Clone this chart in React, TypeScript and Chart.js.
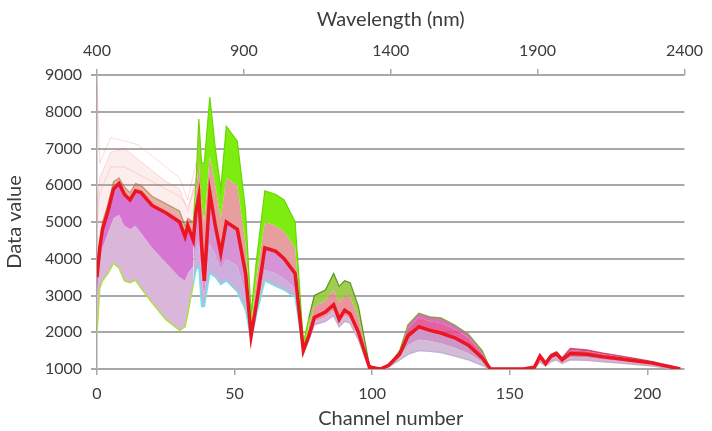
import React, { useEffect, useRef } from "react";
import { Chart, registerables } from "chart.js";

Chart.register(...registerables);

const channels = [0, 1, 2, 4, 6, 8, 10, 12, 14, 16, 20, 25, 30, 32, 33, 35, 36, 37, 38, 39, 41, 43, 45, 47, 51, 54, 56, 58, 61, 65, 68, 72, 75, 77, 79, 83, 86, 88, 90, 92, 95, 99, 103, 106, 108, 110, 113, 117, 121, 125, 130, 135, 140, 143, 150, 155, 159, 161, 163, 165, 167, 169, 172, 178, 184, 190, 196, 202, 207, 212];

// Upper envelope of the spectra bundle (green top)
const topEnvelope = [3700, 4500, 5000, 5500, 6100, 6200, 5950, 5800, 6050, 6000, 5700, 5500, 5300, 4900, 5100, 5000, 6100, 7800, 6600, 6600, 8400, 7000, 5900, 7600, 7200, 5300, 2500, 4000, 5850, 5750, 5600, 5000, 1700, 2400, 3000, 3150, 3600, 3250, 3400, 3350, 2700, 1100, 1000, 1120, 1300, 1500, 2200, 2520, 2420, 2390, 2200, 1950, 1500, 1000, 1000, 1000, 1060, 1380, 1180, 1400, 1470, 1300, 1560, 1520, 1430, 1360, 1280, 1200, 1100, 1000];

// Where the green part of the bundle gives way to the pink part
const upperMid = [3650, 4450, 4950, 5450, 6000, 6150, 5880, 5720, 5980, 5920, 5600, 5400, 5180, 4780, 5000, 4800, 5800, 6600, 5500, 5000, 6800, 6000, 5100, 6200, 6000, 4400, 2200, 3500, 5000, 4900, 4750, 4300, 1600, 2150, 2700, 2850, 3150, 2800, 3000, 2950, 2400, 1080, 1000, 1110, 1280, 1450, 2100, 2400, 2300, 2250, 2080, 1850, 1420, 1000, 1000, 1000, 1055, 1370, 1170, 1380, 1450, 1280, 1510, 1480, 1400, 1330, 1260, 1190, 1095, 1000];

// Dominant red spectrum
const mainRed = [3500, 4300, 4800, 5300, 5900, 6050, 5750, 5600, 5850, 5800, 5450, 5250, 5000, 4600, 4900, 4500, 5300, 5700, 4400, 3400, 5800, 4900, 4150, 5000, 4800, 3600, 1900, 2800, 4300, 4200, 4000, 3600, 1500, 1900, 2400, 2550, 2750, 2350, 2600, 2500, 2000, 1050, 1000, 1100, 1250, 1400, 1900, 2150, 2050, 1980, 1850, 1650, 1300, 1000, 1000, 1000, 1050, 1350, 1150, 1350, 1420, 1250, 1420, 1400, 1330, 1280, 1220, 1160, 1080, 1000];

// Lower boundary of the magenta part
const lowerMid = [3000, 3900, 4300, 4700, 5100, 5200, 4900, 4800, 4900, 4700, 4300, 3900, 3500, 3400, 3600, 3800, 4300, 4500, 3500, 3000, 4400, 4100, 3700, 4000, 3800, 3000, 1850, 2600, 3700, 3600, 3450, 3200, 1480, 1850, 2300, 2400, 2600, 2250, 2450, 2380, 1900, 1020, 1000, 1070, 1200, 1320, 1650, 1800, 1760, 1700, 1580, 1430, 1200, 1000, 1000, 1000, 1030, 1270, 1110, 1270, 1330, 1200, 1330, 1320, 1260, 1220, 1170, 1120, 1050, 1000];

// Lower envelope (lime / cyan edge)
const lowerEnvelope = [2000, 3200, 3400, 3600, 3880, 3750, 3400, 3350, 3420, 3200, 2800, 2350, 2050, 2150, 2500, 3300, 3700, 3800, 2700, 2700, 3600, 3500, 3300, 3400, 3100, 2600, 1800, 2500, 3400, 3250, 3150, 2950, 1450, 1800, 2200, 2300, 2450, 2150, 2300, 2250, 1800, 1000, 1000, 1050, 1150, 1250, 1400, 1500, 1480, 1450, 1350, 1250, 1100, 1000, 1000, 1000, 1020, 1200, 1080, 1200, 1250, 1150, 1250, 1240, 1200, 1160, 1120, 1080, 1030, 1000];

// Faint red outlier spectra in the visible range
const faintChannels = [0, 1, 5, 10, 15, 20, 25, 30, 33, 36, 38];
const faintA = [8800, 6600, 7300, 7200, 7100, 6800, 6500, 6200, 5600, 6600, 6000];
const faintB = [5500, 6200, 6900, 7000, 6700, 6400, 6100, 5900, 5300, 6200, 5800];
const faintC = [5000, 5800, 6500, 6500, 6300, 6100, 5900, 5700, 5400, 6000, 5600];

const channelRange = [0, 213.5];
const wavelengthRange = [400, 2400];
const valueRange = [1000, 9000];

const pts = (xs: number[], ys: number[]) => xs.map((x, i) => ({ x, y: ys[i] }));

const region = (a: string, b: string, c: string, d: string, e: string) => (ctx: any) => {
  const x = ctx.p0.parsed.x;
  return x < 35 ? a : x < 76 ? b : x < 100 ? c : x < 148 ? d : e;
};

const FONT = "Lato, 'Liberation Sans', sans-serif";
const TEXT = "#3c3c3c";
const GRID = "rgb(168,168,168)";
const plain = (v: any) => String(v);

export default function App() {
  const ref = useRef<HTMLCanvasElement | null>(null);

  useEffect(() => {
    if (!ref.current) return;
    const base = { pointRadius: 0, tension: 0, borderWidth: 0, xAxisID: "x", yAxisID: "y" };
    const chart = new Chart(ref.current, {
      type: "line",
      data: {
        datasets: [
          {
            ...base,
            label: "main",
            data: pts(channels, mainRed),
            borderColor: "rgb(236,22,34)",
            borderWidth: 3.5,
            fill: false,
            order: 0,
          },
          {
            ...base,
            label: "top",
            data: pts(channels, topEnvelope),
            borderWidth: 1.2,
            borderColor: "rgb(110,205,0)",
            backgroundColor: "rgb(130,232,20)",
            fill: 2,
            order: 3,
            segment: {
              backgroundColor: region("rgba(180,110,60,0.5)", "rgb(125,236,15)", "rgba(150,200,60,0.9)", "rgba(208,95,180,0.9)", "rgba(205,55,115,0.8)"),
              borderColor: region("rgba(170,100,60,0.6)", "rgb(105,215,0)", "rgb(90,150,30)", "rgb(130,170,40)", "rgba(200,40,90,0.8)"),
            },
          },
          {
            ...base,
            label: "upperMid",
            data: pts(channels, upperMid),
            backgroundColor: "rgb(230,160,160)",
            fill: 0,
            order: 4,
            segment: {
              backgroundColor: region("rgba(222,80,80,0.5)", "rgb(230,158,158)", "rgba(230,130,140,0.85)", "rgba(222,70,140,0.85)", "rgba(220,50,100,0.8)"),
            },
          },
          {
            ...base,
            label: "lowerMid",
            data: pts(channels, lowerMid),
            backgroundColor: "rgb(215,120,210)",
            fill: 0,
            order: 5,
            segment: {
              backgroundColor: region("rgb(214,118,210)", "rgb(214,148,214)", "rgba(228,130,165,0.85)", "rgb(205,150,200)", "rgb(205,130,175)"),
            },
          },
          {
            ...base,
            label: "low",
            data: pts(channels, lowerEnvelope),
            borderWidth: 1.5,
            borderColor: "rgb(170,220,60)",
            backgroundColor: "rgb(215,180,215)",
            fill: 3,
            order: 6,
            segment: {
              backgroundColor: region("rgb(218,182,218)", "rgb(205,175,222)", "rgb(212,186,216)", "rgb(210,188,215)", "rgb(212,180,205)"),
              borderColor: region("rgb(175,222,70)", "rgb(110,228,228)", "rgb(200,175,210)", "rgb(195,180,205)", "rgb(205,170,195)"),
            },
          },
          {
            ...base,
            label: "faintA",
            data: pts(faintChannels, faintA),
            borderWidth: 0.7,
            borderColor: "rgba(240,80,80,0.3)",
            fill: false,
            order: 1,
          },
          {
            ...base,
            label: "faintB",
            data: pts(faintChannels, faintB),
            borderWidth: 0.7,
            borderColor: "rgba(240,80,80,0.3)",
            backgroundColor: "rgba(245,150,150,0.16)",
            fill: 1,
            order: 2,
          },
          {
            ...base,
            label: "faintC",
            data: pts(faintChannels, faintC),
            borderWidth: 0.7,
            borderColor: "rgba(240,80,80,0.3)",
            fill: false,
            order: 1,
          },
        ],
      },
      options: {
        responsive: false,
        animation: false,
        events: [],
        layout: { padding: { left: 0, right: 20, top: 0, bottom: 0 } },
        plugins: {
          legend: { display: false },
          tooltip: { enabled: false },
          filler: { propagate: false },
        },
        scales: {
          x: {
            type: "linear",
            position: "bottom",
            min: channelRange[0],
            max: channelRange[1],
            afterFit: (s: any) => { s.height = 62; },
            grid: { drawOnChartArea: false, drawTicks: true, tickLength: 6, color: GRID, lineWidth: 1.5 },
            border: { display: false },
            ticks: { stepSize: 50, includeBounds: false, padding: 9, color: TEXT, font: { family: FONT, size: 16 }, maxRotation: 0, callback: plain },
            title: { display: true, text: "Channel number", color: TEXT, font: { family: FONT, size: 20 }, padding: { top: 0, bottom: 0 } },
          },
          x2: {
            type: "linear",
            position: "top",
            min: wavelengthRange[0],
            max: wavelengthRange[1],
            afterFit: (s: any) => { s.height = 75; },
            grid: { drawOnChartArea: false, drawTicks: true, tickLength: 6, color: GRID, lineWidth: 1.5 },
            border: { display: false },
            ticks: { stepSize: 500, padding: 9, color: TEXT, font: { family: FONT, size: 16 }, maxRotation: 0, callback: plain },
            title: { display: true, text: "Wavelength (nm)", color: TEXT, font: { family: FONT, size: 20 }, padding: { top: 8, bottom: 0 } },
          },
          y: {
            type: "linear",
            position: "left",
            min: valueRange[0],
            max: valueRange[1],
            afterFit: (s: any) => { s.width = 97; },
            grid: { drawTicks: true, tickLength: 6, color: GRID, lineWidth: 2 },
            border: { display: true, color: GRID, width: 1.5 },
            ticks: { stepSize: 1000, padding: 9, color: TEXT, font: { family: FONT, size: 16 }, callback: plain },
            title: { display: true, text: "Data value", color: TEXT, font: { family: FONT, size: 20 }, padding: { top: 3, bottom: 0 } },
          },
        },
      },
    } as any);
    return () => chart.destroy();
  }, []);

  return (
    <div style={{ position: "fixed", left: 0, top: 0, width: 712, height: 431, background: "#fff" }}>
      <canvas ref={ref} width={712} height={431} style={{ display: "block" }} />
    </div>
  );
}
